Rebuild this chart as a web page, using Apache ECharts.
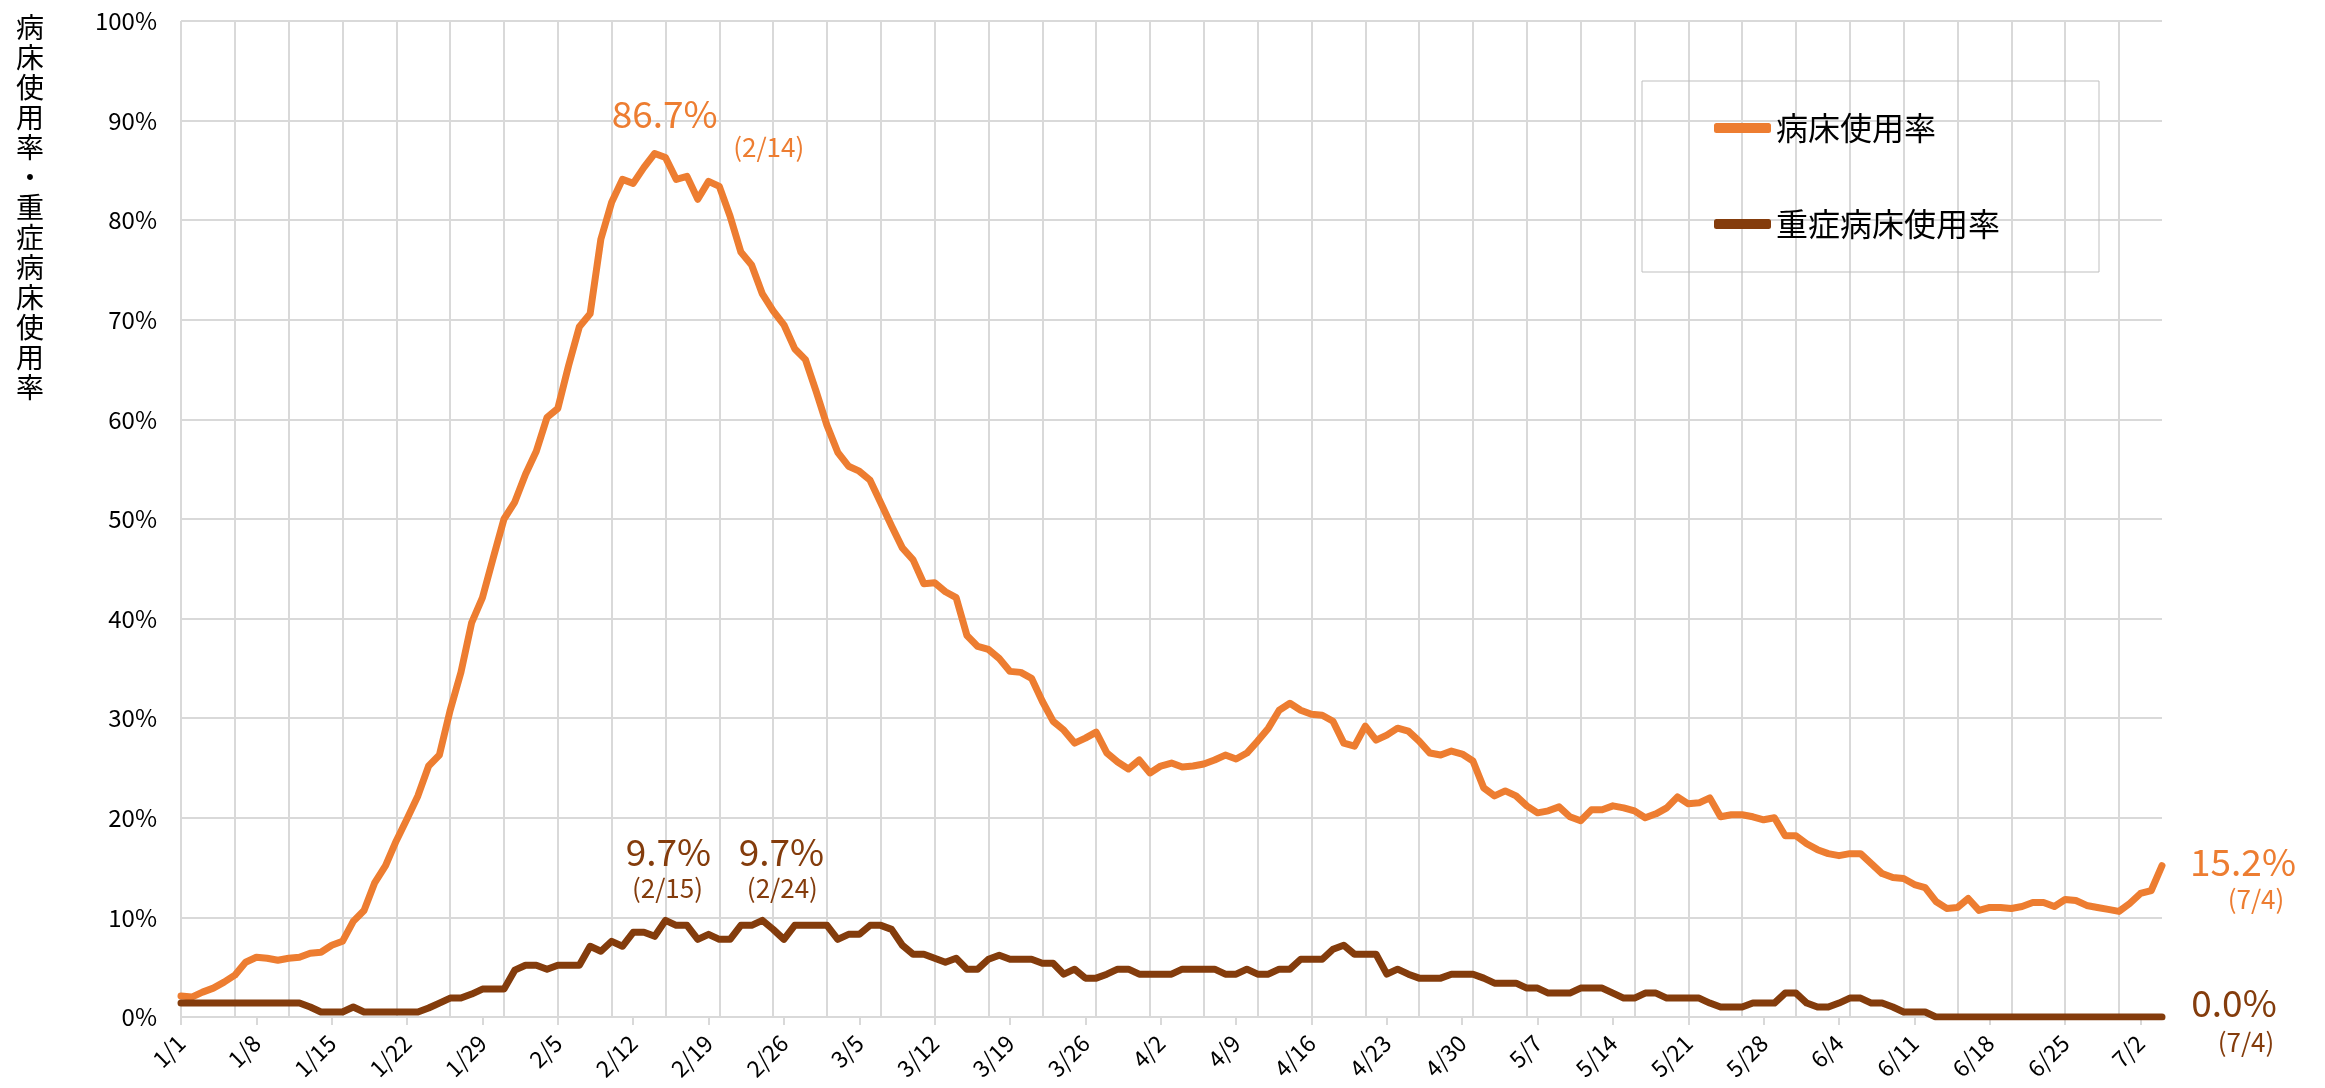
<!DOCTYPE html>
<html>
<head>
<meta charset="utf-8">
<script src="https://cdn.jsdelivr.net/npm/echarts@6/dist/echarts.min.js"></script>
<style>
  html, body { margin: 0; padding: 0; background: #fff; }
  #chart { width: 2325px; height: 1088px; }
</style>
</head>
<body>
<div id="chart"></div>
<script>
  // 1/1 .. 7/4, one category per day
  const monthDays = [31, 28, 31, 30, 31, 30, 4]
  const categories = []
  monthDays.forEach((n, m) => {
    for (let d = 1; d <= n; d++) categories.push(`${m + 1}/${d}`)
  })

  const bedRate = [
    2.1, 2.0, 2.5, 2.9, 3.5, 4.2, 5.5, 6.0, 5.9, 5.7,
    5.9, 6.0, 6.4, 6.5, 7.2, 7.6, 9.6, 10.7, 13.5, 15.2,
    17.7, 19.9, 22.2, 25.2, 26.3, 30.8, 34.6, 39.6, 42.1, 46.1,
    50.0, 51.7, 54.5, 56.8, 60.2, 61.1, 65.4, 69.3, 70.6, 78.1,
    81.8, 84.1, 83.7, 85.3, 86.7, 86.3, 84.1, 84.4, 82.1, 83.9,
    83.4, 80.4, 76.8, 75.5, 72.6, 70.9, 69.5, 67.1, 66.0, 62.8,
    59.4, 56.7, 55.3, 54.8, 53.9, 51.6, 49.3, 47.1, 45.9, 43.5,
    43.6, 42.7, 42.1, 38.3, 37.2, 36.9, 36.0, 34.7, 34.6, 34.0,
    31.7, 29.7, 28.8, 27.5, 28.0, 28.6, 26.5, 25.6, 24.9, 25.8,
    24.5, 25.2, 25.5, 25.1, 25.2, 25.4, 25.8, 26.3, 25.9, 26.5,
    27.7, 29.0, 30.8, 31.5, 30.8, 30.4, 30.3, 29.7, 27.5, 27.2,
    29.2, 27.8, 28.3, 29.0, 28.7, 27.7, 26.5, 26.3, 26.7, 26.4,
    25.7, 23.0, 22.2, 22.7, 22.2, 21.2, 20.5, 20.7, 21.1, 20.1,
    19.7, 20.8, 20.8, 21.2, 21.0, 20.7, 20.0, 20.4, 21.0, 22.1,
    21.4, 21.5, 22.0, 20.1, 20.3, 20.3, 20.1, 19.8, 20.0, 18.2,
    18.2, 17.4, 16.8, 16.4, 16.2, 16.4, 16.4, 15.4, 14.4, 14.0,
    13.9, 13.3, 13.0, 11.6, 10.9, 11.0, 11.9, 10.7, 11.0, 11.0,
    10.9, 11.1, 11.5, 11.5, 11.1, 11.8, 11.7, 11.2, 11.0, 10.8,
    10.6, 11.4, 12.4, 12.7, 15.2
  ]

  const severeRate = [
    1.4, 1.4, 1.4, 1.4, 1.4, 1.4, 1.4, 1.4, 1.4, 1.4,
    1.4, 1.4, 1.0, 0.5, 0.5, 0.5, 1.0, 0.5, 0.5, 0.5,
    0.5, 0.5, 0.5, 0.9, 1.4, 1.9, 1.9, 2.3, 2.8, 2.8,
    2.8, 4.7, 5.2, 5.2, 4.8, 5.2, 5.2, 5.2, 7.1, 6.6,
    7.6, 7.1, 8.5, 8.5, 8.1, 9.7, 9.2, 9.2, 7.8, 8.3,
    7.8, 7.8, 9.2, 9.2, 9.7, 8.8, 7.8, 9.2, 9.2, 9.2,
    9.2, 7.8, 8.3, 8.3, 9.2, 9.2, 8.8, 7.2, 6.3, 6.3,
    5.9, 5.5, 5.9, 4.8, 4.8, 5.8, 6.2, 5.8, 5.8, 5.8,
    5.4, 5.4, 4.3, 4.8, 3.9, 3.9, 4.3, 4.8, 4.8, 4.3,
    4.3, 4.3, 4.3, 4.8, 4.8, 4.8, 4.8, 4.3, 4.3, 4.8,
    4.3, 4.3, 4.8, 4.8, 5.8, 5.8, 5.8, 6.8, 7.2, 6.3,
    6.3, 6.3, 4.3, 4.8, 4.3, 3.9, 3.9, 3.9, 4.3, 4.3,
    4.3, 3.9, 3.4, 3.4, 3.4, 2.9, 2.9, 2.4, 2.4, 2.4,
    2.9, 2.9, 2.9, 2.4, 1.9, 1.9, 2.4, 2.4, 1.9, 1.9,
    1.9, 1.9, 1.4, 1.0, 1.0, 1.0, 1.4, 1.4, 1.4, 2.4,
    2.4, 1.4, 1.0, 1.0, 1.4, 1.9, 1.9, 1.4, 1.4, 1.0,
    0.5, 0.5, 0.5, 0, 0, 0, 0, 0, 0, 0,
    0, 0, 0, 0, 0, 0, 0, 0, 0, 0,
    0, 0, 0, 0, 0
  ]

  const seriesNames = ['病床使用率', '重症病床使用率']
  const yAxisTitle = '病床使用率・重症病床使用率'

  const ORANGE = '#ED7D31'
  const BROWN = '#843C0C'
  const GRID = '#D9D9D9'
  const FONT = '"Noto Sans CJK JP", "Noto Sans", sans-serif'

  const last = categories.length - 1

  // annotation helper: text placed relative to a data point
  const note = (idx, val, text, size, offset) => ({
    coord: [idx, val],
    symbol: 'circle',
    symbolSize: 1,
    itemStyle: { color: 'rgba(0,0,0,0)' },
    label: {
      show: true,
      position: 'inside',
      formatter: text,
      fontSize: size,
      fontFamily: FONT,
      offset: offset
    }
  })

  const chart = echarts.init(document.getElementById('chart'), null, { renderer: 'canvas' })

  const option = {
    animation: false,
    backgroundColor: '#fff',
    textStyle: { fontFamily: FONT },
    grid: { left: 181, right: 163, top: 21, bottom: 71 },
    legend: {
      orient: 'vertical',
      left: 1642,
      top: 81,
      padding: [27, 99, 28, 72],
      itemGap: 56,
      itemWidth: 57,
      itemHeight: 10,
      icon: 'roundRect',
      borderColor: '#BFBFBF',
      borderWidth: 1,
      textStyle: { fontSize: 32, color: '#000', lineHeight: 40, fontFamily: FONT },
      data: seriesNames
    },
    graphic: [
      {
        type: 'text',
        left: 16,
        top: 12,
        style: {
          text: yAxisTitle.split('').join('\n'),
          fontSize: 28,
          lineHeight: 30,
          fill: '#000',
          fontFamily: FONT,
          align: 'center'
        }
      }
    ],
    xAxis: {
      type: 'category',
      data: categories,
      boundaryGap: false,
      axisLine: { lineStyle: { color: GRID, width: 2 } },
      axisTick: { show: true, interval: 6, length: 8, lineStyle: { color: GRID, width: 2 } },
      axisLabel: {
        interval: 6,
        rotate: 45,
        fontSize: 23,
        color: '#000',
        margin: 22,
        fontFamily: FONT
      },
      splitLine: { show: true, interval: 4, lineStyle: { color: GRID, width: 2 } }
    },
    yAxis: {
      type: 'value',
      min: 0,
      max: 100,
      interval: 10,
      axisLine: { show: false },
      axisTick: { show: false },
      axisLabel: {
        formatter: '{value}%',
        fontSize: 24,
        color: '#000',
        margin: 24,
        fontFamily: FONT
      },
      splitLine: { lineStyle: { color: GRID, width: 2 } }
    },
    series: [
      {
        name: seriesNames[0],
        type: 'line',
        data: bedRate,
        symbol: 'none',
        lineStyle: { color: ORANGE, width: 7, cap: 'round', join: 'round' },
        itemStyle: { color: ORANGE },
        markPoint: {
          silent: true,
          label: { color: ORANGE },
          data: [
            note(44, bedRate[44], '86.7%', 37, [10, -40]),
            note(44, bedRate[44], '(2/14)', 26, [114, -6]),
            note(last, bedRate[last], '15.2%', 37, [81, -4]),
            note(last, bedRate[last], '(7/4)', 26, [94, 34])
          ]
        }
      },
      {
        name: seriesNames[1],
        type: 'line',
        data: severeRate,
        symbol: 'none',
        lineStyle: { color: BROWN, width: 7, cap: 'round', join: 'round' },
        itemStyle: { color: BROWN },
        markPoint: {
          silent: true,
          label: { color: BROWN },
          data: [
            note(45, severeRate[45], '9.7%', 37, [3, -68]),
            note(45, severeRate[45], '(2/15)', 26, [2, -32]),
            note(54, severeRate[54], '9.7%', 37, [19, -68]),
            note(54, severeRate[54], '(2/24)', 26, [20, -32]),
            note(last, severeRate[last], '0.0%', 37, [72, -14]),
            note(last, severeRate[last], '(7/4)', 26, [84, 25])
          ]
        }
      }
    ]
  }

  chart.setOption(option)
</script>
</body>
</html>
